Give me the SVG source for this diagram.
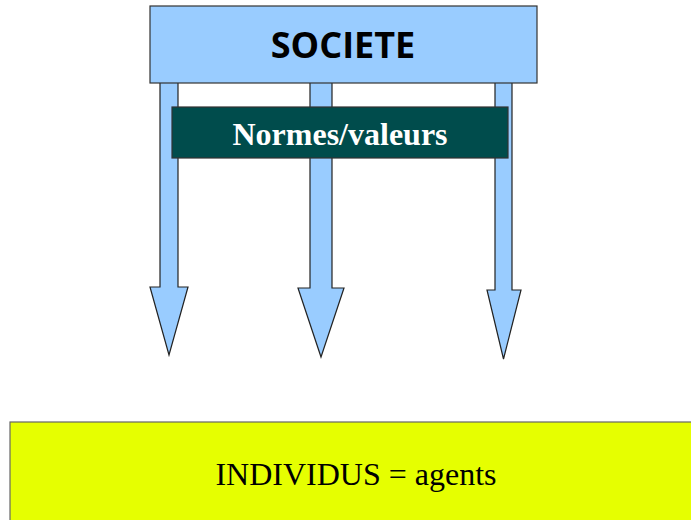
<svg xmlns="http://www.w3.org/2000/svg" width="691" height="520" viewBox="0 0 691 520">
<style>
.arrow{fill:#99CCFF;stroke:#222;stroke-width:1.2;stroke-linejoin:miter}
.box{stroke:#333;stroke-width:1.2}
</style>
<rect width="691" height="520" fill="#fff"/>
<g id="connectors">
<polygon class="arrow" points="160,70 178,70 178,287 188,287 169,355 150,287 160,287"/>
<polygon class="arrow" points="310,70 332,70 332,288 344,288 321,357 298,288 310,288"/>
<polygon class="arrow" points="495,70 512,70 512,290 521,290 503.5,359 487,290 495,290"/>
</g>
<g id="societe">
<rect class="box" x="150" y="6" width="387" height="77" fill="#99CCFF"/>
<text x="343" y="58" font-family="Open Sans, DejaVu Sans, sans-serif" font-weight="bold" font-size="36" text-anchor="middle" fill="#000">SOCIETE</text>
</g>
<g id="normes">
<rect class="box" x="172" y="107" width="336" height="51" fill="#004C4C"/>
<text x="340" y="145" font-family="Liberation Serif, serif" font-weight="bold" font-size="32" text-anchor="middle" fill="#fff">Normes/valeurs</text>
</g>
<g id="individus">
<rect x="10" y="422" width="700" height="120" fill="#E6FF00" stroke="#666" stroke-width="1.2"/>
<text x="356" y="485" font-family="Liberation Serif, serif" font-size="32" text-anchor="middle" fill="#000">INDIVIDUS = agents</text>
</g>
</svg>
